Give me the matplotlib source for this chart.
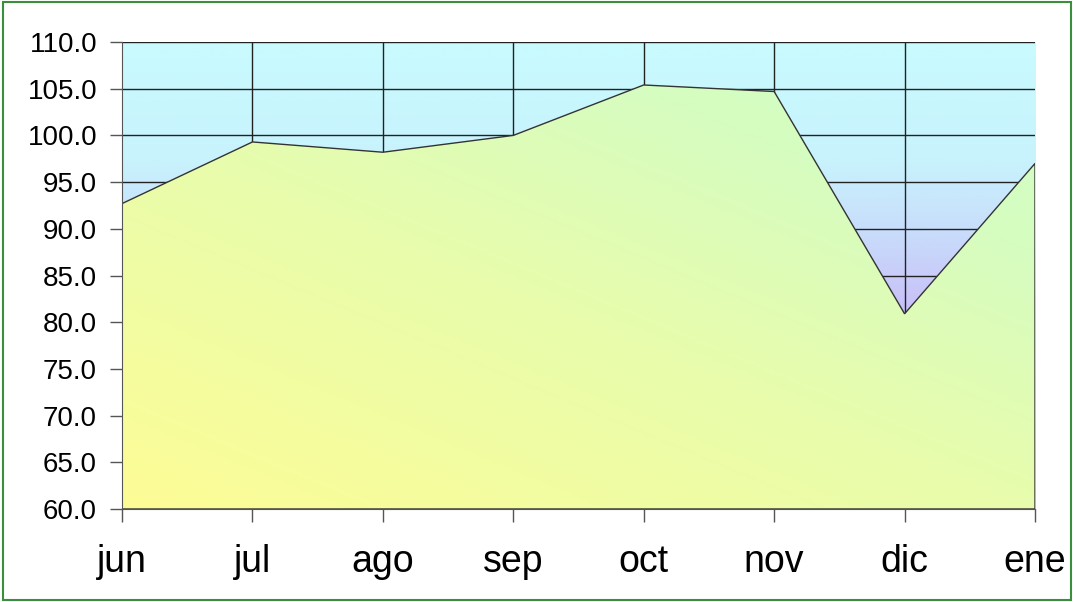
#!/usr/bin/env python
#
# Monthly index, jun-ene, drawn as a gradient-filled area chart
#

import numpy as np
import matplotlib
matplotlib.use("Agg")
import matplotlib.pyplot as plt
from matplotlib.colors import LinearSegmentedColormap
from matplotlib.patches import Polygon, Rectangle

months = ["jun", "jul", "ago", "sep", "oct", "nov", "dic", "ene"]
values = [92.7, 99.3, 98.2, 100.0, 105.4, 104.7, 80.9, 97.0]
yticks = [60, 65, 70, 75, 80, 85, 90, 95, 100, 105, 110]

plt.rcParams["font.family"] = ["Liberation Sans", "DejaVu Sans"]

fig = plt.figure(figsize=(10.74, 6.02), dpi=100)
fig.patch.set_facecolor("white")
ax = fig.add_axes([0.1136, 0.1545, 0.8501, 0.7757])

x = np.arange(len(months))
ymin, ymax = 60, 110
ax.set_xlim(0, len(months) - 1)
ax.set_ylim(ymin, ymax)

# plot background: cyan at the top fading to lavender further down
bg = LinearSegmentedColormap.from_list(
    "bg", [(0.0, "#c8fbff"), (0.25, "#c8f3fd"), (0.4, "#c8defb"),
           (0.56, "#c8c2f8"), (1.0, "#b8a8f0")])
grad = np.linspace(0, 1, 256).reshape(-1, 1)
ax.imshow(grad, cmap=bg, aspect="auto", extent=[0, len(months) - 1, ymin, ymax],
          origin="upper", zorder=0)

# grid lines
for v in yticks[1:]:
    ax.axhline(v, color="#222222", lw=1.0, zorder=1)
for xi in x[1:-1]:
    ax.axvline(xi, color="#222222", lw=1.0, zorder=1)

# area: diagonal gradient, yellow lower left to pale green upper right
xx, yy = np.meshgrid(np.linspace(0, 1, 300), np.linspace(0, 1, 200))
diag = xx * 0.45 + yy * 0.55
area_cmap = LinearSegmentedColormap.from_list(
    "area", [(0.0, "#fdfd96"), (0.45, "#e8fcac"), (0.75, "#d6fdc0"), (1.0, "#d0fdc6")])
im = ax.imshow(diag, cmap=area_cmap, aspect="auto", origin="lower",
               extent=[0, len(months) - 1, ymin, ymax], zorder=2)
verts = [(0, ymin)] + list(zip(x, values)) + [(x[-1], ymin)]
poly = Polygon(verts, closed=True, facecolor="none", edgecolor="#333333",
               lw=1.0, zorder=3)
ax.add_patch(poly)
im.set_clip_path(poly)

# axes styling
ax.spines["top"].set_visible(False)
ax.spines["right"].set_visible(False)
ax.spines["left"].set_color("#555555")
ax.spines["bottom"].set_color("#555555")
ax.spines["left"].set_zorder(4)
ax.spines["bottom"].set_zorder(4)

ax.set_yticks(yticks)
ax.set_yticklabels(["%.1f" % v for v in yticks], fontsize=20)
ax.set_xticks(x)
ax.set_xticklabels(months, fontsize=27)
ax.tick_params(axis="y", direction="out", length=9, width=1, color="#555555", pad=9)
ax.tick_params(axis="x", direction="out", length=9, width=1, color="#555555", pad=16)

# green frame round the figure
fig.patches.append(Rectangle((0.003, 0.004), 0.994, 0.992, transform=fig.transFigure,
                             fill=False, edgecolor="#3a8f3a", lw=1.5))

fig.savefig("out.png", dpi=100)
